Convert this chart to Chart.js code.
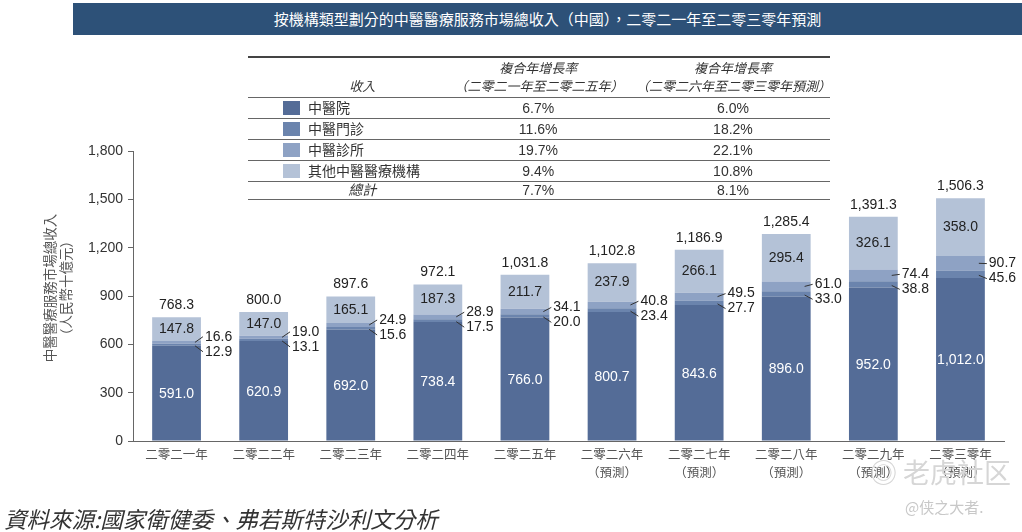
<!DOCTYPE html>
<html><head><meta charset="utf-8">
<script src="https://cdn.jsdelivr.net/npm/chart.js@4/dist/chart.umd.min.js"></script>
<style>
html,body{margin:0;padding:0;background:#fff;}
body{width:1022px;height:532px;position:relative;overflow:hidden;font-family:"Liberation Sans","Noto Sans CJK TC",sans-serif;}
#wrap{position:absolute;left:0;top:0;width:1022px;height:532px;}
#titlebar{position:absolute;left:73px;top:3px;width:949px;height:32px;background:#2d5178;color:#fff;font-size:15px;line-height:32px;text-align:center;font-family:"Noto Sans CJK TC",sans-serif;}
#tbl{position:absolute;left:248px;top:56px;width:582px;border-collapse:collapse;font-size:14px;color:#333;font-family:"Liberation Sans","Noto Sans CJK TC",sans-serif;}
#tbl td{padding:0;}
#tbl tr.hd td{height:38px;font-style:italic;font-size:13px;line-height:18px;vertical-align:bottom;padding-bottom:1px;}
#tbl tr.r td{height:20px;border-top:1px solid #666;vertical-align:middle;line-height:20px;}
#tbl tr.last td{height:17px;line-height:17px;border-bottom:1px solid #666;}
#tbl{border-top:2px solid #444;}
.c1{width:192px;}
.c2{width:174px;text-align:center;}
.c3{width:216px;text-align:center;padding-left:14px !important;box-sizing:border-box;}
.sw{display:inline-block;width:17px;height:14px;vertical-align:-2px;margin-left:35px;margin-right:8px;}
#src{position:absolute;left:4px;top:502px;font-size:22.5px;font-style:italic;color:#333;font-family:"Noto Sans CJK TC",sans-serif;}
#wm1{position:absolute;left:870px;top:452px;font-size:27px;color:#d6d6d6;font-family:"Noto Sans CJK SC",sans-serif;}
#wm2{position:absolute;left:905px;top:496px;font-size:15px;color:#c8c8c8;font-family:"Noto Sans CJK SC",sans-serif;}
</style></head>
<body>
<div id="wrap"><canvas id="c"></canvas></div>
<div id="titlebar">按機構類型劃分的中醫醫療服務市場總收入（中國），二零二一年至二零三零年預測</div>
<table id="tbl">
<tr class="hd"><td class="c1" style="text-align:center;padding-left:22px;">收入</td><td class="c2">複合年增長率<br>（二零二一年至二零二五年）</td><td class="c3">複合年增長率<br>（二零二六年至二零三零年預測）</td></tr>
<tr class="r"><td class="c1"><span class="sw" style="background:#546c97"></span>中醫院</td><td class="c2">6.7%</td><td class="c3">6.0%</td></tr>
<tr class="r"><td class="c1"><span class="sw" style="background:#6b84ad"></span>中醫門診</td><td class="c2">11.6%</td><td class="c3">18.2%</td></tr>
<tr class="r"><td class="c1"><span class="sw" style="background:#8ea2c4"></span>中醫診所</td><td class="c2">19.7%</td><td class="c3">22.1%</td></tr>
<tr class="r"><td class="c1"><span class="sw" style="background:#b4c2d7"></span>其他中醫醫療機構</td><td class="c2">9.4%</td><td class="c3">10.8%</td></tr>
<tr class="r last"><td class="c1" style="text-align:center;padding-left:22px;font-style:italic;">總計</td><td class="c2">7.7%</td><td class="c3">8.1%</td></tr>
</table>
<div id="src">資料來源:國家衛健委、弗若斯特沙利文分析</div>
<div id="wm1">◎ 老虎社区</div>
<div id="wm2">@侠之大者.</div>
<script>
const categories = [
  ["二零二一年"], ["二零二二年"], ["二零二三年"], ["二零二四年"], ["二零二五年"],
  ["二零二六年", "（預測）"], ["二零二七年", "（預測）"], ["二零二八年", "（預測）"],
  ["二零二九年", "（預測）"], ["二零三零年", "（預測）"]
];
const seriesNames = ["中醫院", "中醫門診", "中醫診所", "其他中醫醫療機構"];
const hospital = [591.0, 620.9, 692.0, 738.4, 766.0, 800.7, 843.6, 896.0, 952.0, 1012.0];
const outpatient = [12.9, 13.1, 15.6, 17.5, 20.0, 23.4, 27.7, 33.0, 38.8, 45.6];
const clinic = [16.6, 19.0, 24.9, 28.9, 34.1, 40.8, 49.5, 61.0, 74.4, 90.7];
const others = [147.8, 147.0, 165.1, 187.3, 211.7, 237.9, 266.1, 295.4, 326.1, 358.0];
const totals = [768.3, 800.0, 897.6, 972.1, 1031.8, 1102.8, 1186.9, 1285.4, 1391.3, 1506.3];
const yTicks = [0, 300, 600, 900, 1200, 1500, 1800];
const yTitle = ['中醫醫療服務市場總收入', '（人民幣十億元）'];
const colors = ["#546c97", "#6b84ad", "#8ea2c4", "#b4c2d7"];

const fmt = new Intl.NumberFormat('en-US', {minimumFractionDigits: 1, maximumFractionDigits: 1});
const FONT = '"Liberation Sans","Noto Sans CJK TC",sans-serif';

const labelPlugin = {
  id: 'barLabels',
  afterDatasetsDraw(chart) {
    const ctx = chart.ctx;
    ctx.save();
    ctx.font = '14px ' + FONT;
    ctx.textBaseline = 'middle';
    const m0 = chart.getDatasetMeta(0).data;
    const m1 = chart.getDatasetMeta(1).data;
    const m2 = chart.getDatasetMeta(2).data;
    const m3 = chart.getDatasetMeta(3).data;
    for (let i = 0; i < categories.length; i++) {
      const b0 = m0[i], b1 = m1[i], b2 = m2[i], b3 = m3[i];
      ctx.fillStyle = '#ffffff';
      ctx.textAlign = 'center';
      ctx.fillText(fmt.format(hospital[i]), b0.x, (b0.y + b0.base) / 2 + 1);
      ctx.fillStyle = '#222';
      ctx.fillText(fmt.format(others[i]), b3.x, (b3.y + b3.base) / 2);
      ctx.fillText(fmt.format(totals[i]), b3.x, b3.y - 12);
      const right = b0.x + b0.width / 2;
      const bnd = b1.y;
      const upY = bnd - 7, loY = bnd + 8;
      const c1y = (b1.y + b1.base) / 2, c2y = (b2.y + b2.base) / 2;
      ctx.strokeStyle = '#333';
      ctx.lineWidth = 1;
      ctx.beginPath();
      ctx.moveTo(right - 6, c2y); ctx.lineTo(right + 2, upY);
      ctx.moveTo(right - 6, c1y + 1); ctx.lineTo(right + 2, loY);
      ctx.stroke();
      ctx.textAlign = 'left';
      ctx.fillText(fmt.format(clinic[i]), right + 4, upY);
      ctx.fillText(fmt.format(outpatient[i]), right + 4, loY);
    }
    // y-axis title
    const ca = chart.chartArea;
    const cy = (ca.top + ca.bottom) / 2 - 8;
    ctx.fillStyle = '#555';
    ctx.font = '13.5px "Noto Sans CJK TC",sans-serif';
    ctx.textAlign = 'center';
    ctx.textBaseline = 'middle';
    [50, 66].forEach((x, k) => {
      ctx.save();
      ctx.translate(x, cy);
      ctx.rotate(-Math.PI / 2);
      ctx.fillText(yTitle[k], 0, 0);
      ctx.restore();
    });
    ctx.restore();
  }
};

const datasets = [hospital, outpatient, clinic, others].map((d, k) => ({
  label: seriesNames[k], data: d, backgroundColor: colors[k],
  borderWidth: 0, barPercentage: 0.56, categoryPercentage: 1.0, stack: 's'
}));

new Chart(document.getElementById('c'), {
  type: 'bar',
  data: { labels: categories, datasets },
  plugins: [labelPlugin],
  options: {
    responsive: true, maintainAspectRatio: false, animation: false,
    layout: { padding: { left: 38, right: 18, top: 151, bottom: 40 } },
    plugins: { legend: { display: false }, tooltip: { enabled: false } },
    scales: {
      x: {
        stacked: true,
        grid: { display: true, drawOnChartArea: false, drawTicks: false },
        border: { display: true, color: '#666', width: 1 },
        ticks: { color: '#555', padding: 5, maxRotation: 0, autoSkip: false,
          font: { family: FONT, size: 12.5, lineHeight: 1.45 } },
        afterFit(s) { s.height = 51; }
      },
      y: {
        stacked: true, min: 0, max: 1800,
        afterBuildTicks(s) { s.ticks = yTicks.map(v => ({ value: v })); },
        grid: { display: true, drawOnChartArea: false, drawTicks: true, tickLength: 5, color: '#666' },
        border: { display: true, color: '#666', width: 1 },
        ticks: { color: '#333', padding: 5, font: { family: FONT, size: 14 },
          callback: v => v.toLocaleString('en-US') },
        title: { display: false },
        afterFit(s) { s.width = 133 - 38; }
      }
    }
  }
});
</script>
</body></html>
